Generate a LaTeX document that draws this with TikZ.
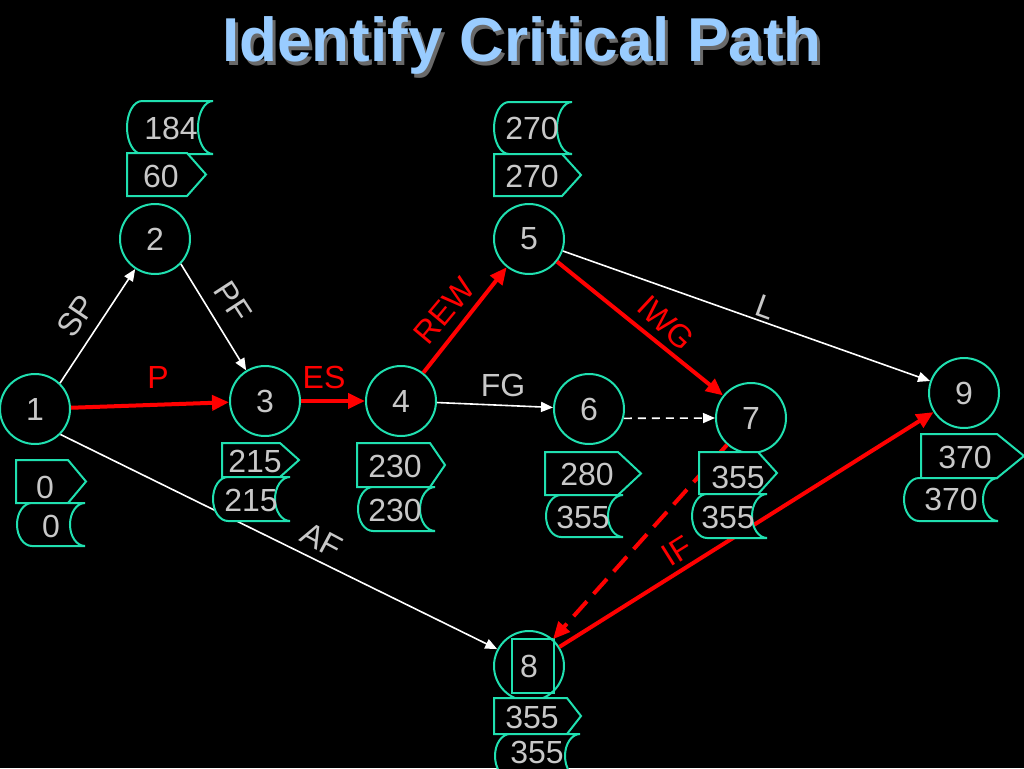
\documentclass[tikz,border=0pt]{standalone}
\usepackage{fontspec}
\setmainfont{Liberation Sans}
\usetikzlibrary{arrows.meta}
\definecolor{tealc}{RGB}{32,224,176}
\definecolor{numgray}{RGB}{200,200,200}
\definecolor{titleblue}{RGB}{153,204,255}
\definecolor{shadowgray}{RGB}{105,105,105}
\newcommand\storedtag[4]{% L R T B
  \pgfmathsetmacro\sM{(#3+#4)/2}
  \pgfmathsetmacro\sK{0.276*(#4-#3)}
  \path[tagline] (#1+15,#3) -- (#2,#3)
    .. controls (#2-8.3,#3) and (#2-15,\sM-\sK) .. (#2-15,\sM)
    .. controls (#2-15,\sM+\sK) and (#2-8.3,#4) .. (#2,#4)
    -- (#1+15,#4)
    .. controls (#1+6.7,#4) and (#1,\sM+\sK) .. (#1,\sM)
    .. controls (#1,\sM-\sK) and (#1+6.7,#3) .. (#1+15,#3) -- cycle;
}
\newcommand\hometag[5]{% L Rbody Tip T B
  \path[tagline] (#1,#4) -- (#2,#4) -- (#3,{(#4+#5)/2}) -- (#2,#5) -- (#1,#5) -- cycle;
}
\tikzset{
  evt/.style={circle, draw=tealc, line width=2pt, minimum size=70pt, inner sep=0pt,
    text=numgray, font=\fontsize{32}{32}\selectfont},
  wedge/.style={draw=white, line width=1.6pt, -{Triangle[length=12pt,width=10pt]}},
  cedge/.style={draw=red, line width=4pt, -{Triangle[length=17pt,width=15pt]}},
  lbl/.style={text=numgray, font=\fontsize{32}{32}\selectfont, inner sep=0pt},
  rlbl/.style={text=red, font=\fontsize{32}{32}\selectfont, inner sep=0pt},
  tagline/.style={draw=tealc, line width=2pt, fill=black},
  tagtext/.style={text=numgray, font=\fontsize{32}{32}\selectfont, inner sep=0pt},
}
\begin{document}
\begin{tikzpicture}[x=1pt,y=-1pt]
\fill[black] (0,0) rectangle (1024,768);
\useasboundingbox (0,0) rectangle (1024,768);
% title
\node[anchor=base, text=shadowgray, font=\fontsize{62}{62}\selectfont\bfseries] (tshadow) at (525,65) {Identify Critical Path};
\node[anchor=base, text=titleblue, font=\fontsize{62}{62}\selectfont\bfseries] (title) at (522,62) {Identify Critical Path};
% events
\node[evt] (n1) at (35,409) {1};
\node[evt] (n2) at (155,239) {2};
\node[evt] (n3) at (265,401) {3};
\node[evt] (n4) at (401,401) {4};
\node[evt] (n5) at (529,239) {5};
\node[evt] (n6) at (589,409) {6};
\node[evt] (n7) at (751,418) {7};
\node[evt] (n8) at (529,666) {8};
\node[evt] (n9) at (964,393) {9};
\draw[draw=tealc, line width=2pt] (512,639) rectangle (554,693);
% edges
\draw[wedge] (n1.46) -- (n2);
\draw[wedge] (n2.-44) -- (n3);
\draw[wedge] (n1.-45) -- (n8.152);
\draw[wedge] (n4) -- (n6);
\draw[wedge] (n5) -- (n9);
\draw[wedge, dash pattern=on 8pt off 6pt] (n6.-15) -- (n7.180);
\draw[cedge] (n1) -- (n3);
\draw[cedge] (n3) -- (n4);
\draw[cedge] (n4) -- (n5);
\draw[cedge] (n5) -- (n7);
\draw[cedge] (n8) -- (n9);
\draw[cedge, dash pattern=on 20pt off 10pt] (n7) -- (n8);
% labels
\node[lbl, rotate=56] (lsp) at (76,316) {SP};
\node[lbl, rotate=-57] (lpf) at (233,302) {PF};
\node[rlbl] (lp) at (158,377) {P};
\node[rlbl] (les) at (324,377) {ES};
\node[rlbl, rotate=50] (lrew) at (444,311) {REW};
\node[rlbl, rotate=-43] (liwg) at (666,323) {IWG};
\node[lbl, rotate=-20] (ll) at (766,307) {L};
\node[lbl] (lfg) at (503,385) {FG};
\node[lbl, rotate=-28] (laf) at (322,540) {AF};
\node[rlbl, rotate=32] (lif) at (677,551) {IF};
% tags
\hometag{16}{68}{86}{460}{503}
\storedtag{17}{85}{503}{546}
\node[tagtext] (t1a) at (45,487) {0};
\node[tagtext] (t1b) at (51,526) {0};
\storedtag{127}{213}{101}{154}
\hometag{127}{187}{206}{153}{196}
\node[tagtext] (t2a) at (171,128) {184};
\node[tagtext] (t2b) at (161,176) {60};
\hometag{222}{280}{299}{443}{477}
\storedtag{213}{290}{477}{521}
\node[tagtext] (t3a) at (255,461) {215};
\node[tagtext] (t3b) at (251,500) {215};
\hometag{357}{430}{445}{443}{487}
\storedtag{358}{435}{487}{531}
\node[tagtext] (t4a) at (395,466) {230};
\node[tagtext] (t4b) at (395,510) {230};
\storedtag{494}{572}{102}{154}
\hometag{494}{562}{581}{154}{196}
\node[tagtext] (t5a) at (532,128) {270};
\node[tagtext] (t5b) at (532,176) {270};
\hometag{545}{618}{641}{452}{495}
\storedtag{546}{623}{495}{537}
\node[tagtext] (t6a) at (587,474) {280};
\node[tagtext] (t6b) at (583,517) {355};
\hometag{699}{758}{777}{452}{494}
\storedtag{692}{767}{494}{538}
\node[tagtext] (t7a) at (738,477) {355};
\node[tagtext] (t7b) at (728,517) {355};
\hometag{494}{567}{581}{698}{734}
\storedtag{495}{580}{734}{778}
\node[tagtext] (t8a) at (532,717) {355};
\node[tagtext] (t8b) at (537,752) {355};
\hometag{921}{997}{1024}{434}{478}
\storedtag{904}{998}{478}{521}
\node[tagtext] (t9a) at (965,457) {370};
\node[tagtext] (t9b) at (951,499) {370};
\end{tikzpicture}
\end{document}
